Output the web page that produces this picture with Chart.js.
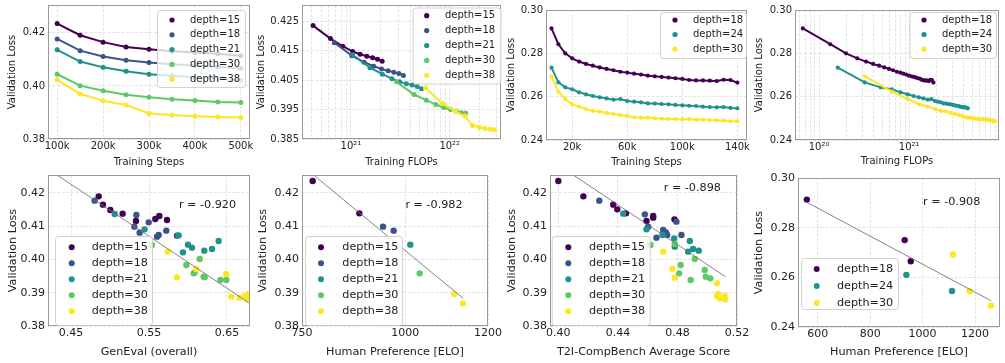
<!DOCTYPE html>
<html>
<head>
<meta charset="utf-8">
<script src="https://cdn.jsdelivr.net/npm/chart.js@4.4.1/dist/chart.umd.min.js"></script>
<style>
  html, body { margin: 0; padding: 0; background: #fff; }
  #wrap { position: relative; width: 1005px; height: 363px; overflow: hidden; }
  #wrap canvas { position: absolute; left: 0; top: 0; }
</style>
</head>
<body>
<div id="wrap"></div>
<script>
// ---------- DATA ----------
const depths5 = ["depth=15", "depth=18", "depth=21", "depth=30", "depth=38"];
const depths3 = ["depth=18", "depth=24", "depth=30"];
const viridis5 = ["#440154", "#3b528b", "#21918c", "#5ec962", "#fde725"];
const viridis3 = ["#440154", "#21918c", "#fde725"];

// run A: 9 checkpoints, 100k..500k steps
const steps = [100000, 150000, 200000, 250000, 300000, 350000, 400000, 450000, 500000];
const loss15 = [0.4235, 0.4191, 0.4165, 0.4147, 0.4138, 0.4131, 0.4126, 0.4121, 0.4114];
const loss18 = [0.4177, 0.4133, 0.4111, 0.4097, 0.4088, 0.4082, 0.4077, 0.4072, 0.4066];
const loss21 = [0.4136, 0.4092, 0.4070, 0.4055, 0.4044, 0.4038, 0.4033, 0.4028, 0.4021];
const loss30 = [0.4044, 0.4001, 0.3982, 0.3967, 0.3957, 0.3950, 0.3945, 0.3939, 0.3938];
const loss38 = [0.4023, 0.3970, 0.3944, 0.3928, 0.3896, 0.3890, 0.3886, 0.3883, 0.3881];
const flops15 = [4.14e20, 6.21e20, 8.28e20, 1.04e21, 1.24e21, 1.45e21, 1.66e21, 1.86e21, 2.07e21];
const flops18 = [6.8e20, 1.02e21, 1.36e21, 1.7e21, 2.04e21, 2.38e21, 2.72e21, 3.06e21, 3.4e21];
const flops21 = [1.04e21, 1.56e21, 2.08e21, 2.6e21, 3.12e21, 3.64e21, 4.16e21, 4.68e21, 5.2e21];
const flops30 = [2.9e21, 4.35e21, 5.8e21, 7.25e21, 8.7e21, 1.02e22, 1.16e22, 1.31e22, 1.45e22];
const flops38 = [5.68e21, 8.52e21, 1.14e22, 1.42e22, 1.7e22, 1.99e22, 2.27e22, 2.56e22, 2.84e22];

// run B: 28 checkpoints, 5k..140k steps
const stepsB = [5000, 10000, 15000, 20000, 25000, 30000, 35000, 40000, 45000, 50000, 55000, 60000, 65000, 70000,
  75000, 80000, 85000, 90000, 95000, 100000, 105000, 110000, 115000, 120000, 125000, 130000, 135000, 140000];
const lossB18 = [0.2915, 0.2842, 0.2800, 0.2777, 0.2762, 0.2751, 0.2743, 0.2735, 0.2728, 0.2722, 0.2715, 0.2711, 0.2706, 0.2702,
  0.2697, 0.2694, 0.2691, 0.2688, 0.2685, 0.2682, 0.2677, 0.2675, 0.2675, 0.2674, 0.2672, 0.2678, 0.2677, 0.2665];
const lossB24 = [0.2734, 0.2666, 0.2643, 0.2634, 0.2620, 0.2611, 0.2603, 0.2597, 0.2592, 0.2586, 0.2589, 0.2580, 0.2577, 0.2574,
  0.2569, 0.2568, 0.2566, 0.2565, 0.2562, 0.2560, 0.2558, 0.2557, 0.2554, 0.2552, 0.2551, 0.2552, 0.2548, 0.2546];
const lossB30 = [0.2694, 0.2623, 0.2589, 0.2565, 0.2554, 0.2543, 0.2534, 0.2531, 0.2525, 0.2520, 0.2515, 0.2511, 0.2505, 0.2503,
  0.2503, 0.2500, 0.2498, 0.2497, 0.2497, 0.2495, 0.2497, 0.2494, 0.2494, 0.2492, 0.2491, 0.2489, 0.2486, 0.2486];
const flopsB18 = [6.6e19, 1.33e20, 1.99e20, 2.65e20, 3.32e20, 3.98e20, 4.64e20, 5.3e20, 5.97e20, 6.63e20, 7.29e20, 7.96e20, 8.62e20, 9.28e20,
  9.95e20, 1.06e21, 1.13e21, 1.19e21, 1.26e21, 1.33e21, 1.39e21, 1.46e21, 1.53e21, 1.59e21, 1.66e21, 1.72e21, 1.79e21, 1.86e21];
const flopsB24 = [1.61e20, 3.21e20, 4.82e20, 6.42e20, 8.03e20, 9.63e20, 1.12e21, 1.28e21, 1.44e21, 1.61e21, 1.77e21, 1.93e21, 2.09e21, 2.25e21,
  2.41e21, 2.57e21, 2.73e21, 2.89e21, 3.05e21, 3.21e21, 3.37e21, 3.53e21, 3.69e21, 3.85e21, 4.01e21, 4.17e21, 4.33e21, 4.49e21];
const flopsB30 = [3.23e20, 6.45e20, 9.68e20, 1.29e21, 1.61e21, 1.94e21, 2.26e21, 2.58e21, 2.9e21, 3.23e21, 3.55e21, 3.87e21, 4.19e21, 4.52e21,
  4.84e21, 5.16e21, 5.48e21, 5.81e21, 6.13e21, 6.45e21, 6.77e21, 7.1e21, 7.42e21, 7.74e21, 8.06e21, 8.39e21, 8.71e21, 9.03e21];

// GenEval vs loss
const gen15 = [0.4855, 0.491, 0.5004, 0.5162, 0.5333, 0.5581, 0.5632, 0.5731];
const genLoss15 = [0.4189, 0.4164, 0.4148, 0.4137, 0.4115, 0.4121, 0.4130, 0.4118];
const gen18 = [0.4803, 0.5338, 0.5312, 0.5496, 0.538, 0.5603, 0.5624, 0.5722, 0.5859];
const genLoss18 = [0.4176, 0.4133, 0.4098, 0.4111, 0.4080, 0.4068, 0.4073, 0.4086, 0.4071];
const gen21 = [0.506, 0.5444, 0.588, 0.5936, 0.600, 0.6051, 0.6209, 0.6308, 0.6393];
const genLoss21 = [0.4136, 0.4090, 0.4072, 0.4021, 0.4044, 0.4035, 0.4026, 0.4031, 0.4055];
const gen30 = [0.5538, 0.5979, 0.6073, 0.6086, 0.615, 0.6201, 0.6214, 0.6415, 0.6491];
const genLoss30 = [0.4043, 0.3983, 0.3958, 0.3961, 0.4001, 0.3948, 0.3946, 0.3938, 0.3938];
const gen38 = [0.5739, 0.5859, 0.6107, 0.6491, 0.6556, 0.6662, 0.6735, 0.6765, 0.6778];
const genLoss38 = [0.4023, 0.3946, 0.3971, 0.3956, 0.3888, 0.3885, 0.3890, 0.3880, 0.3896];
const genFitX = [0.4205, 0.6778];
const genFitY = [0.4271, 0.3870];

// Human preference (run A)
const elo15 = [775.8, 888.7];   const eloLoss15 = [0.4235, 0.4138];
const elo18 = [946, 971.8];     const eloLoss18 = [0.4098, 0.4086];
const elo21 = [1012];           const eloLoss21 = [0.4044];
const elo30 = [1034.7];         const eloLoss30 = [0.3958];
const elo38 = [1118.5, 1139.5]; const eloLoss38 = [0.3896, 0.3868];
const eloFitX = [776, 1140];
const eloFitY = [0.4255, 0.3883];

// T2I-CompBench vs loss
const t2i15 = [0.400, 0.4168, 0.4369, 0.4396, 0.4454, 0.4592, 0.4637, 0.4637, 0.478];
const t2iLoss15 = [0.4235, 0.4189, 0.4164, 0.4150, 0.4138, 0.4115, 0.4130, 0.4125, 0.4120];
const t2i18 = [0.4275, 0.4581, 0.4603, 0.4659, 0.4704, 0.4722, 0.4731, 0.4793, 0.4827];
const t2iLoss18 = [0.4176, 0.4135, 0.4098, 0.4065, 0.4088, 0.4081, 0.4073, 0.4113, 0.4073];
const t2i21 = [0.4436, 0.4592, 0.4699, 0.4778, 0.4872, 0.4883, 0.4905, 0.4943, 0.4782];
const t2iLoss21 = [0.4137, 0.4090, 0.4073, 0.4063, 0.4023, 0.4055, 0.4031, 0.4026, 0.4038];
const t2i30 = [0.4619, 0.4782, 0.4822, 0.4811, 0.4916, 0.4983, 0.4990, 0.5021, 0.4889];
const t2iLoss30 = [0.4043, 0.4046, 0.3983, 0.3958, 0.4001, 0.3968, 0.3948, 0.3943, 0.3938];
const t2i38 = [0.4704, 0.4766, 0.4782, 0.5066, 0.5066, 0.5073, 0.5084, 0.5117, 0.5120];
const t2iLoss38 = [0.4023, 0.3972, 0.3945, 0.3928, 0.3890, 0.3896, 0.3883, 0.3890, 0.3880];
const t2iFitX = [0.400, 0.5122];
const t2iFitY = [0.4283, 0.3948];

// Human preference (run B)
const eloB18 = [558.7, 931.6, 954.8]; const eloLossB18 = [0.2913, 0.2750, 0.2665];
const eloB24 = [938, 1112];           const eloLossB24 = [0.2610, 0.2545];
const eloB30 = [1116, 1179, 1260.6];  const eloLossB30 = [0.2692, 0.2545, 0.2486];
const eloBFitX = [558.7, 1260.6];
const eloBFitY = [0.2902, 0.2506];

const rValues = [-0.920, -0.982, -0.898, -0.908];

// tick labels
const stepTicks = [100000, 200000, 300000, 400000, 500000];
const stepTicksB = [20000, 60000, 100000, 140000];
const lossTicksA = [0.38, 0.40, 0.42];
const lossTicksA2 = [0.385, 0.395, 0.405, 0.415, 0.425];
const lossTicksB = [0.24, 0.26, 0.28, 0.30];
const lossTicksC = [0.38, 0.39, 0.40, 0.41, 0.42];
const genTicks = [0.45, 0.55, 0.65];
const eloTicks = [750, 1000, 1200];
const t2iTicks = [0.40, 0.44, 0.48, 0.52];
const eloTicksB = [600, 800, 1000, 1200];

// ---------- SETUP ----------
const PAGE_W = 1005, PAGE_H = 363;
const FONT = "DejaVu Sans";
const INK = "#222";
const GRID = "rgba(176,176,176,0.45)";
Chart.defaults.font.family = FONT;

const pts = (xs, ys) => xs.map((x, i) => ({ x: x, y: ys[i] }));

function lineSet(label, color, xs, ys, i, r) {
    return {
        label: label, data: pts(xs, ys), showLine: true,
        borderColor: color, backgroundColor: color, borderWidth: 2,
        pointRadius: r, pointBorderWidth: 0, pointBackgroundColor: color, order: -i
    };
}

function dotSet(label, color, xs, ys, i) {
    return {
        label: label, data: pts(xs, ys),
        borderColor: color, backgroundColor: color,
        pointRadius: 3.2, pointBorderWidth: 0, order: -i
    };
}

function fitSet(xs, ys) {
    return {
        data: pts(xs, ys), showLine: true, borderColor: "rgba(110,110,110,0.85)",
        borderWidth: 1, pointRadius: 0, order: -99
    };
}

const SUP = { "0": "⁰", "1": "¹", "2": "²", "3": "³", "4": "⁴", "5": "⁵", "6": "⁶", "7": "⁷", "8": "⁸", "9": "⁹", "-": "⁻" };

function logTicks(min, max) {
    const out = [];
    for (let e = Math.floor(Math.log10(min)); e <= Math.ceil(Math.log10(max)); e++) {
        for (let m = 1; m <= 9; m++) {
            const v = m * Math.pow(10, e);
            if (v >= min && v <= max) out.push(v);
        }
    }
    return out;
}

function logLabel(v) {
    const l = Math.log10(v);
    if (Math.abs(l - Math.round(l)) > 1e-6) return "";
    return "10" + String(Math.round(l)).split("").map(c => SUP[c]).join("");
}

const frame = {
    id: "frame",
    afterDatasetsDraw(chart) {
        const ctx = chart.ctx, a = chart.chartArea;
        ctx.save();
        ctx.strokeStyle = "#999";
        ctx.lineWidth = 1;
        ctx.strokeRect(Math.round(a.left) + 0.5, Math.round(a.top) + 0.5,
            Math.round(a.right) - Math.round(a.left) - 1, Math.round(a.bottom) - Math.round(a.top) - 1);
        ctx.restore();
    }
};

function boxLegend(lg) {
    return {
        id: "boxLegend",
        afterDraw(chart) {
            const ctx = chart.ctx;
            ctx.save();
            ctx.beginPath();
            ctx.roundRect(lg.x + 0.5, lg.y + 0.5, lg.w, lg.h, 3);
            ctx.fillStyle = "rgba(255,255,255,0.8)";
            ctx.fill();
            ctx.strokeStyle = "rgba(204,204,204,0.9)";
            ctx.lineWidth = 1;
            ctx.stroke();
            ctx.font = lg.size + "px " + FONT;
            ctx.textBaseline = "middle";
            ctx.textAlign = "left";
            lg.labels.forEach((label, i) => {
                const y = lg.rowY + i * lg.rowH;
                ctx.fillStyle = lg.colors[i];
                ctx.beginPath();
                ctx.arc(lg.markX, y, lg.r, 0, Math.PI * 2);
                ctx.fill();
                ctx.fillStyle = INK;
                ctx.fillText(label, lg.textX, y);
            });
            ctx.restore();
        }
    };
}

function note(text, x, y, size) {
    return {
        id: "note",
        afterDraw(chart) {
            const ctx = chart.ctx;
            ctx.save();
            ctx.font = size + "px " + FONT;
            ctx.fillStyle = INK;
            ctx.textAlign = "center";
            ctx.textBaseline = "middle";
            ctx.fillText(text, x, y);
            ctx.restore();
        }
    };
}

function panel(spec) {
    const fs = spec.font, lh = fs * 1.2, p = spec.plot;
    const padL = spec.yTitleX - lh / 2;
    const padB = PAGE_H - (spec.xTitleY + lh / 2);
    const cv = document.createElement("canvas");
    cv.width = PAGE_W;
    cv.height = PAGE_H;
    document.getElementById("wrap").appendChild(cv);

    const tickFont = { family: FONT, size: spec.tick };
    const titleFont = { family: FONT, size: fs };
    const xs = spec.x, ys = spec.y;
    const xTicks = xs.type === "logarithmic" ? logTicks(xs.min, xs.max) : xs.ticks;

    const plugins = [frame];
    if (spec.legend) plugins.push(boxLegend(spec.legend));
    if (spec.note) plugins.push(note(spec.note.text, spec.note.x, spec.note.y, fs));

    return new Chart(cv, {
        type: "scatter",
        data: { datasets: spec.datasets },
        options: {
            responsive: false,
            animation: false,
            events: [],
            layout: { autoPadding: false, padding: { left: padL, top: p.t, right: PAGE_W - p.r, bottom: padB } },
            plugins: { legend: { display: false }, tooltip: { enabled: false } },
            scales: {
                x: {
                    type: xs.type, min: xs.min, max: xs.max,
                    grid: { color: GRID, lineWidth: 0.8, drawTicks: false },
                    border: { display: false, dash: [3, 1.6] },
                    ticks: { autoSkip: false, maxRotation: 0, padding: 1, color: INK, font: tickFont, callback: xs.fmt },
                    title: { display: true, text: spec.xTitle, color: INK, font: titleFont, padding: 0 },
                    afterBuildTicks: s => { s.ticks = xTicks.map(v => ({ value: v })); },
                    afterFit: s => { s.height = PAGE_H - padB - p.b; s.paddingLeft = 0; s.paddingRight = 0; }
                },
                y: {
                    type: "linear", min: ys.min, max: ys.max,
                    grid: { color: GRID, lineWidth: 0.8, drawTicks: false },
                    border: { display: false, dash: [3, 1.6] },
                    ticks: { autoSkip: false, padding: 3, color: INK, font: tickFont, callback: ys.fmt },
                    title: { display: true, text: "Validation Loss", color: INK, font: titleFont, padding: 0 },
                    afterBuildTicks: s => { s.ticks = ys.ticks.map(v => ({ value: v })); },
                    afterFit: s => { s.width = p.l - padL; s.paddingTop = 0; s.paddingBottom = 0; }
                }
            }
        },
        plugins: plugins
    });
}

const kFmt = v => Math.round(v / 1000) + "k";
const f2 = v => v.toFixed(2);
const f3 = v => v.toFixed(3);
const f0 = v => String(Math.round(v));

const lossA = [loss15, loss18, loss21, loss30, loss38];
const flopsA = [flops15, flops18, flops21, flops30, flops38];
const lossB = [lossB18, lossB24, lossB30];
const flopsB = [flopsB18, flopsB24, flopsB30];

// ---------- TOP ROW ----------
panel({
    plot: { l: 48, t: 5, r: 250, b: 139 }, yTitleX: 12.7, xTitleY: 162.3, font: 10, tick: 10,
    xTitle: "Training Steps",
    x: { type: "linear", min: 80000, max: 520000, ticks: stepTicks, fmt: kFmt },
    y: { min: 0.38, max: 0.4305, ticks: lossTicksA, fmt: f2 },
    datasets: depths5.map((d, i) => lineSet(d, viridis5[i], steps, lossA[i], i, 2.5)),
    legend: { x: 157, y: 10, w: 88, h: 77, rowY: 20, rowH: 14.8, markX: 172, textX: 190, size: 10, r: 2.6, labels: depths5, colors: viridis5 }
});

panel({
    plot: { l: 302, t: 5, r: 501, b: 139 }, yTitleX: 261.7, xTitleY: 162.3, font: 10, tick: 10,
    xTitle: "Training FLOPs",
    x: { type: "logarithmic", min: 3.2e20, max: 3.3e22, fmt: logLabel },
    y: { min: 0.385, max: 0.4305, ticks: lossTicksA2, fmt: f3 },
    datasets: depths5.map((d, i) => lineSet(d, viridis5[i], flopsA[i], lossA[i], i, 2.5)),
    legend: { x: 412.5, y: 7.5, w: 88, h: 76, rowY: 15.7, rowH: 14.9, markX: 426.7, textX: 445, size: 10, r: 2.6, labels: depths5, colors: viridis5 }
});

panel({
    plot: { l: 546, t: 10, r: 747, b: 140 }, yTitleX: 511.7, xTitleY: 162.3, font: 10, tick: 10,
    xTitle: "Training Steps",
    x: { type: "linear", min: 1000, max: 147000, ticks: stepTicksB, fmt: kFmt },
    y: { min: 0.24, max: 0.30, ticks: lossTicksB, fmt: f2 },
    datasets: depths3.map((d, i) => lineSet(d, viridis3[i], stepsB, lossB[i], i, 2.1)),
    legend: { x: 660, y: 12, w: 86, h: 46, rowY: 20, rowH: 14.5, markX: 675, textX: 693, size: 10, r: 2.6, labels: depths3, colors: viridis3 }
});

panel({
    plot: { l: 795, t: 10, r: 999, b: 140 }, yTitleX: 759.3, xTitleY: 161.8, font: 10, tick: 10,
    xTitle: "Training FLOPs",
    x: { type: "logarithmic", min: 5.4e19, max: 9.95e21, fmt: logLabel },
    y: { min: 0.24, max: 0.30, ticks: lossTicksB, fmt: f2 },
    datasets: depths3.map((d, i) => lineSet(d, viridis3[i], flopsB[i], lossB[i], i, 2.1)),
    legend: { x: 909.5, y: 12, w: 86.5, h: 46, rowY: 20, rowH: 14.5, markX: 924, textX: 942, size: 10, r: 2.6, labels: depths3, colors: viridis3 }
});

// ---------- BOTTOM ROW ----------
const genX = [gen15, gen18, gen21, gen30, gen38];
const genY = [genLoss15, genLoss18, genLoss21, genLoss30, genLoss38];
panel({
    plot: { l: 48, t: 175, r: 250, b: 326 }, yTitleX: 13.3, xTitleY: 351.7, font: 11.2, tick: 11,
    xTitle: "GenEval (overall)",
    x: { type: "linear", min: 0.4205, max: 0.6795, ticks: genTicks, fmt: f2 },
    y: { min: 0.38, max: 0.4253, ticks: lossTicksC, fmt: f2 },
    datasets: depths5.map((d, i) => dotSet(d, viridis5[i], genX[i], genY[i], i)).concat([fitSet(genFitX, genFitY)]),
    legend: { x: 55, y: 236, w: 97, h: 89, rowY: 247.3, rowH: 16, markX: 71.7, textX: 91.7, size: 11.2, r: 3, labels: depths5, colors: viridis5 },
    note: { text: "r = " + rValues[0].toFixed(3), x: 207.5, y: 205 }
});

const eloX = [elo15, elo18, elo21, elo30, elo38];
const eloY = [eloLoss15, eloLoss18, eloLoss21, eloLoss30, eloLoss38];
panel({
    plot: { l: 302, t: 175, r: 488, b: 326 }, yTitleX: 262.7, xTitleY: 351.7, font: 11.2, tick: 11,
    xTitle: "Human Preference [ELO]",
    x: { type: "linear", min: 750, max: 1200, ticks: eloTicks, fmt: f0 },
    y: { min: 0.38, max: 0.4253, ticks: lossTicksC, fmt: f2 },
    datasets: depths5.map((d, i) => dotSet(d, viridis5[i], eloX[i], eloY[i], i)).concat([fitSet(eloFitX, eloFitY)]),
    legend: { x: 305, y: 236, w: 97, h: 89, rowY: 247.3, rowH: 16, markX: 321, textX: 342.3, size: 11.2, r: 3, labels: depths5, colors: viridis5 },
    note: { text: "r = " + rValues[1].toFixed(3), x: 434, y: 205 }
});

const t2iX = [t2i15, t2i18, t2i21, t2i30, t2i38];
const t2iY = [t2iLoss15, t2iLoss18, t2iLoss21, t2iLoss30, t2iLoss38];
panel({
    plot: { l: 550, t: 175, r: 737, b: 326 }, yTitleX: 511.7, xTitleY: 351.7, font: 11.2, tick: 11,
    xTitle: "T2I-CompBench Average Score",
    x: { type: "linear", min: 0.3944, max: 0.52, ticks: t2iTicks, fmt: f2 },
    y: { min: 0.38, max: 0.4253, ticks: lossTicksC, fmt: f2 },
    datasets: depths5.map((d, i) => dotSet(d, viridis5[i], t2iX[i], t2iY[i], i)).concat([fitSet(t2iFitX, t2iFitY)]),
    legend: { x: 551.7, y: 236, w: 98, h: 89, rowY: 247.3, rowH: 16, markX: 568.3, textX: 589, size: 11.2, r: 3, labels: depths5, colors: viridis5 },
    note: { text: "r = " + rValues[2].toFixed(3), x: 692.3, y: 188.3 }
});

const eloBX = [eloB18, eloB24, eloB30];
const eloBY = [eloLossB18, eloLossB24, eloLossB30];
panel({
    plot: { l: 798, t: 178, r: 1000, b: 327 }, yTitleX: 759.3, xTitleY: 351.7, font: 11.2, tick: 11,
    xTitle: "Human Preference [ELO]",
    x: { type: "linear", min: 525, max: 1295, ticks: eloTicksB, fmt: f0 },
    y: { min: 0.24, max: 0.30, ticks: lossTicksB, fmt: f2 },
    datasets: depths3.map((d, i) => dotSet(d, viridis3[i], eloBX[i], eloBY[i], i)).concat([fitSet(eloBFitX, eloBFitY)]),
    legend: { x: 801, y: 258, w: 97, h: 51, rowY: 269, rowH: 17, markX: 816.7, textX: 837, size: 11.2, r: 3, labels: depths3, colors: viridis3 },
    note: { text: "r = " + rValues[3].toFixed(3), x: 951.7, y: 201.7 }
});
</script>
</body>
</html>
